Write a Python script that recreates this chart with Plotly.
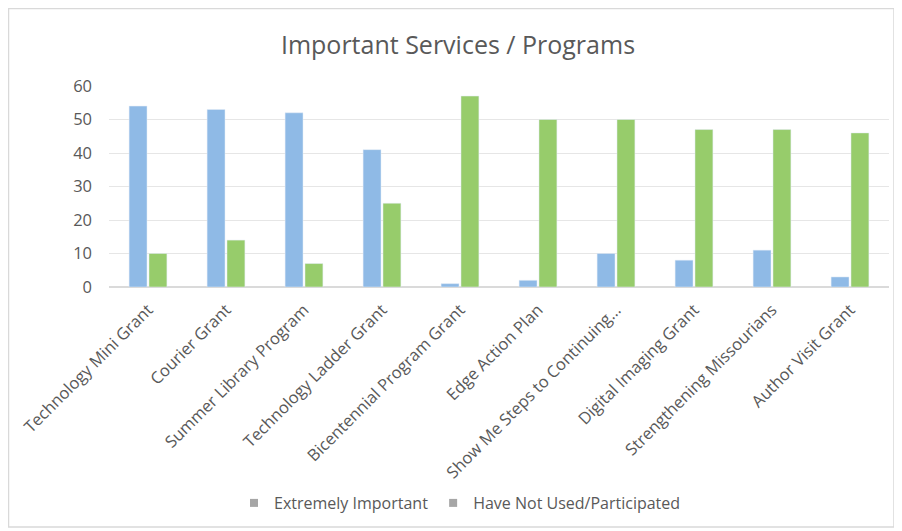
import plotly.graph_objects as go

categories = ["Technology Mini Grant", "Courier Grant", "Summer Library Program",
              "Technology Ladder Grant", "Bicentennial Program Grant", "Edge Action Plan",
              "Show Me Steps to Continuing...", "Digital Imaging Grant",
              "Strengthening Missourians", "Author Visit Grant"]
extremely_important = [54, 53, 52, 41, 1, 2, 10, 8, 11, 3]
not_used = [10, 14, 7, 25, 57, 50, 50, 47, 47, 46]
series_names = ["Extremely Important", "Have Not Used/Participated"]
y_ticks = [0, 10, 20, 30, 40, 50, 60]

W, H = 902, 531
# page body offsets the figure by 8px; margins chosen accordingly
L, R, T, B = 101, 21, 78, 252

fig = go.Figure()
fig.add_trace(go.Bar(x=categories, y=extremely_important, name=series_names[0],
                     marker_color="#8FBAE6", showlegend=False))
fig.add_trace(go.Bar(x=categories, y=not_used, name=series_names[1],
                     marker_color="#97CC6B", showlegend=False))
for nm in series_names:
    fig.add_trace(go.Scatter(x=[None], y=[None], mode="markers", name=nm,
                             marker=dict(symbol="square", size=8, color="#A6A6A6")))

pw = W - L - R
ph = H - T - B
x0 = (0.5 - L) / pw
x1 = (886 - L) / pw
y0 = (H - 519 - B) / ph
y1 = (H - 0.5 - B) / ph
fig.add_shape(type="rect", xref="paper", yref="paper", x0=x0, x1=x1, y0=y0, y1=y1,
              line=dict(color="#D9D9D9", width=1.5), fillcolor="rgba(0,0,0,0)", layer="below")

fig.update_layout(
    width=W, height=H,
    margin=dict(l=L, r=R, t=T, b=B, autoexpand=False),
    paper_bgcolor="white", plot_bgcolor="white",
    barmode="group", bargap=0.49, bargroupgap=0.1,
    font=dict(family="Open Sans", color="#595959"),
    title=dict(text="Important Services / Programs", x=(450 - L) / pw * (pw / W) + L / W,
               xanchor="center", y=(H - 37) / H, yanchor="middle",
               font=dict(size=25, color="#595959")),
    xaxis=dict(tickangle=-45, tickfont=dict(size=16.5, color="#595959"),
               showgrid=False, showline=False, ticks="", ticklabelstandoff=9),
    yaxis=dict(range=[0, 60], tickvals=y_ticks, showgrid=True, gridcolor="#E6E6E6",
               gridwidth=1, zeroline=True, zerolinecolor="#DADADA",
               tickfont=dict(size=16.5, color="#595959"), ticks="", showline=False,
               ticklabelstandoff=16),
    legend=dict(orientation="h", x=(452 - L) / pw, xanchor="center",
                y=(H - 495 - B) / ph, yanchor="middle",
                font=dict(size=16, color="#595959"), tracegroupgap=0),
)

fig.write_html("out.html")
